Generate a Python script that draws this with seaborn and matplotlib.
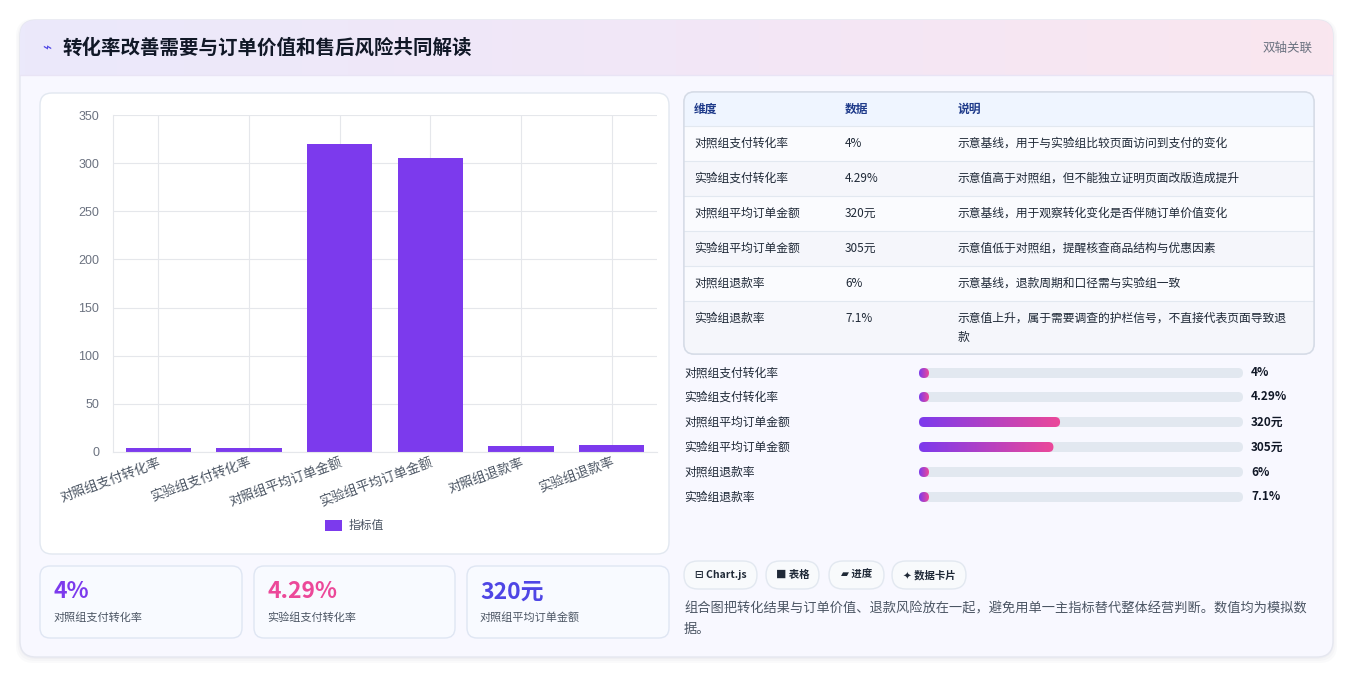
import matplotlib
matplotlib.use("Agg")
import matplotlib.pyplot as plt
import seaborn as sns
import numpy as np
import pandas as pd
from matplotlib.patches import FancyBboxPatch, Rectangle
from matplotlib.colors import LinearSegmentedColormap

categories = ["对照组支付转化率", "实验组支付转化率", "对照组平均订单金额", "实验组平均订单金额", "对照组退款率", "实验组退款率"]
values = [4, 4.29, 320, 305, 6, 7.1]
value_labels = ["4%", "4.29%", "320元", "305元", "6%", "7.1%"]
notes = ["示意基线，用于与实验组比较页面访问到支付的变化",
         "示意值高于对照组，但不能独立证明页面改版造成提升",
         "示意基线，用于观察转化变化是否伴随订单价值变化",
         "示意值低于对照组，提醒核查商品结构与优惠因素",
         "示意基线，退款周期和口径需与实验组一致",
         "示意值上升，属于需要调查的护栏信号，不直接代表页面导致退\n款"]
y_ticks = [0, 50, 100, 150, 200, 250, 300, 350]

sns.set_theme(style="whitegrid")
FONT = ["Noto Sans CJK SC", "DejaVu Sans"]
plt.rcParams["font.family"] = FONT

W, H = 1354, 678
fig = plt.figure(figsize=(W / 100, H / 100), dpi=100)
fig.patch.set_facecolor("white")
bg = fig.add_axes([0, 0, 1, 1], zorder=0)
bg.set_xlim(0, W); bg.set_ylim(H, 0); bg.axis("off")

def rbox(x0, y0, x1, y1, fc, ec="none", r=10, lw=1, z=1, **kw):
    p = FancyBboxPatch((x0, y0), x1 - x0, y1 - y0, boxstyle=f"round,pad=0,rounding_size={r}",
                       fc=fc, ec=ec, lw=lw, zorder=z, **kw)
    bg.add_patch(p)
    return p

def txt(x, y, s, size=8.5, color="#1f2937", weight="normal", ha="left", va="center", **kw):
    bg.text(x, y, s, fontsize=size, color=color, fontweight=weight, ha=ha, va=va, family=FONT, zorder=10, **kw)

for i, a in enumerate([0.03, 0.03, 0.04]):
    rbox(20 - 4 + i * 1.5, 20 - 1 + i, 1333 + 4 - i * 1.5, 657 + 6 - i * 2, "#64748b", r=18, z=0.5, alpha=a)
card = rbox(20, 20, 1333, 657, "#f8f8ff", ec="#e5e7f0", r=16, z=1)
grad = np.linspace(0, 1, 256).reshape(1, -1)
cm = LinearSegmentedColormap.from_list("h", ["#ebe9fb", "#f2e7f7", "#fae6ef"])
im = bg.imshow(grad, extent=[20, 1333, 75, 20], aspect="auto", cmap=cm, zorder=1.5)
im.set_clip_path(card)
bg.plot([20, 1333], [75, 75], color="#e9e4f5", lw=1, zorder=2)
txt(42, 48, "⌁", size=11, color="#4f46e5")
txt(62, 48, "转化率改善需要与订单价值和售后风险共同解读", size=14, weight="bold", color="#111827")
txt(1313, 48, "双轴关联", size=9, color="#6b7280", ha="right", weight="medium")

rbox(40, 93, 669, 554, "white", ec="#e2e8f0", r=12, z=2)

kpis = [(40, 242, "4%", "#7c3aed", categories[0]), (254, 455, "4.29%", "#ec4899", categories[1]),
        (467, 669, "320元", "#4f46e5", categories[2])]
for x0, x1, v, c, lab in kpis:
    rbox(x0, 566, x1, 638, "#f8faff", ec="#dfe6f3", r=10, z=2)
    txt(x0 + 13, 592, v, size=16.5, weight="bold", color=c)
    txt(x0 + 13, 618, lab, size=8, color="#4b5563", weight="medium")

rbox(684, 92, 1314, 354, "#f8f9fd", ec="#d5dbe6", r=10, z=2)
hdr = Rectangle((684, 92), 630, 34, fc="#eff5ff", ec="none", zorder=2.5)
bg.add_patch(hdr)
tbl = rbox(684, 92, 1314, 354, "none", ec="#d5dbe6", r=10, z=4)
hdr.set_clip_path(tbl)
colx = [694, 845, 958]
for s, x in zip(["维度", "数据", "说明"], colx):
    txt(x, 109, s, size=8.5, weight="bold", color="#1e3a8a")
row_tops = [126, 161, 196, 231, 266, 301, 354]
for i in range(6):
    y0, y1 = row_tops[i], row_tops[i + 1]
    fc = "#fafbfe" if i % 2 == 0 else "#f5f6fb"
    r = Rectangle((684, y0), 630, y1 - y0, fc=fc, ec="none", zorder=2.5)
    bg.add_patch(r); r.set_clip_path(tbl)
    bg.plot([684, 1314], [y0, y0], color="#e2e8f0", lw=0.8, zorder=3)
    yc = y0 + 17.5
    txt(colx[0], yc, categories[i], size=8.5, color="#1f2937", weight="medium")
    txt(colx[1], yc, value_labels[i], size=8.5, color="#1f2937", weight="medium")
    txt(colx[2], yc if i < 5 else yc + 9, notes[i], size=8.5, color="#1f2937", linespacing=1.6, weight="medium")

pcm = LinearSegmentedColormap.from_list("p", ["#7c3aed", "#ec4899"])
py = [373, 397, 422, 447, 472, 497]
for i, y in enumerate(py):
    txt(684, y, categories[i], size=8.5, color="#1f2937", weight="medium")
    rbox(919, y - 5, 1243, y + 5, "#e2e8f0", r=5, z=3)
    w = max(10, 324 * values[i] / 735)
    clip = rbox(919, y - 5, 919 + w, y + 5, "none", r=5, z=3.5)
    g = bg.imshow(np.linspace(0, 1, 256).reshape(1, -1), extent=[919, 919 + w, y + 5, y - 5],
                  aspect="auto", cmap=pcm, zorder=3.6)
    g.set_clip_path(clip)
    txt(1251, y, value_labels[i], size=8.5, weight="bold", color="#111827")

chips = [(684, 757, "⊟ Chart.js"), (766, 819, "■ 表格"), (829, 884, "▰ 进度"), (892, 966, "✦ 数据卡片")]
for x0, x1, s in chips:
    rbox(x0, 561, x1, 589, "#f8fafc", ec="#e2e8f0", r=14, z=3)
    txt((x0 + x1) / 2, 575, s, size=7.5, weight="bold", color="#1f2937", ha="center")
txt(684, 609, "组合图把转化结果与订单价值、退款风险放在一起，避免用单一主指标替代整体经营判断。数值均为模拟数", size=9.5, color="#4b5563", weight="medium")
txt(684, 629, "据。", size=9.5, color="#4b5563", weight="medium")

ax = fig.add_axes([113 / W, (H - 452) / H, 544 / W, 337 / H], zorder=5)
ax.patch.set_alpha(0)
df = pd.DataFrame({"维度": categories, "指标值": values})
sns.barplot(data=df, x="维度", y="指标值", color="#7c3aed", width=0.72, ax=ax, saturation=1)
for p in ax.patches:
    p.set_edgecolor("none")
ax.set_ylim(0, 350)
ax.set_yticks(y_ticks)
ax.set_xlim(-0.5, 5.5)
ax.set_xlabel(""); ax.set_ylabel("")
ax.grid(True, color="#e5e7eb", lw=0.8)
ax.set_axisbelow(True)
for s in ax.spines.values():
    s.set_color("#e5e7eb"); s.set_linewidth(0.8)
ax.spines["top"].set_visible(False); ax.spines["right"].set_visible(False)
ax.tick_params(axis="y", colors="#6b7280", labelsize=9, length=0, pad=10)
ax.tick_params(axis="x", colors="#4b5563", labelsize=9.5, length=0, pad=3)
ax.set_xticks(range(6))
ax.set_xticklabels(categories, rotation=20, ha="right", rotation_mode="anchor", family=FONT, fontweight="medium")
for t in ax.get_yticklabels():
    t.set_family(["Liberation Sans", "DejaVu Sans"])
bg.add_patch(Rectangle((325, 520), 17, 11, fc="#7c3aed", ec="none", zorder=6))
txt(349, 525, "指标值", size=8.5, color="#4b5563", weight="medium")

fig.savefig("out.png", dpi=100, facecolor="white")
